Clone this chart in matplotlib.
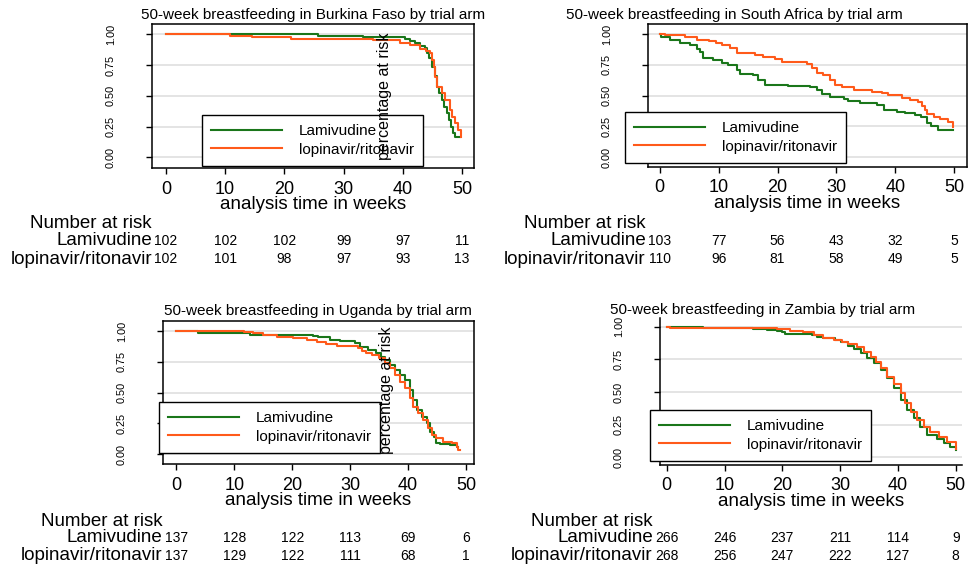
import matplotlib
matplotlib.use("Agg")
import matplotlib.pyplot as plt
from matplotlib.transforms import blended_transform_factory

plt.rcParams["font.family"] = ["Liberation Sans", "DejaVu Sans"]

W, H = 975, 567

arms = ["Lamivudine", "lopinavir/ritonavir"]
arm_colors = ["#1a761a", "#ff5a1a"]
risk_times = [0, 10, 20, 30, 40, 50]

# ---- Burkina Faso (KM steps) ----
bf_lam_t = [0, 25.7, 33.3, 40.4, 41.2, 42.0, 42.9, 43.75, 44.1, 44.5, 45.0, 45.4, 45.8, 46.2, 46.6,
            47.0, 47.4, 47.8, 48.1, 48.5, 48.9, 49.7]
bf_lam_s = [1.0, 0.99, 0.98, 0.96, 0.945, 0.927, 0.905, 0.886, 0.845, 0.805, 0.737, 0.66, 0.574,
            0.52, 0.466, 0.41, 0.358, 0.30, 0.249, 0.20, 0.163, 0.163]
bf_lpv_t = [0, 10.8, 14.5, 21.2, 35.0, 39.5, 41.2, 42.9, 44.0, 44.6, 44.9, 45.2, 45.5, 45.8, 46.6,
            47.2, 47.9, 48.3, 48.8, 49.3, 49.8]
bf_lpv_s = [1.0, 0.99, 0.98, 0.964, 0.954, 0.93, 0.913, 0.878, 0.867, 0.845, 0.79, 0.737, 0.65,
            0.574, 0.52, 0.466, 0.385, 0.33, 0.276, 0.22, 0.168]
bf_risk_lam = [102, 102, 102, 99, 97, 11]
bf_risk_lpv = [102, 101, 98, 97, 93, 13]

# ---- South Africa ----
sa_lam_t = [0, 0.3, 1.7, 3.4, 5.1, 6.3, 6.8, 7.4, 9.1, 10.5, 11.6, 13.1, 13.6, 15.9, 16.7, 17.8,
            21.8, 25.5, 26.7, 27.5, 28.9, 31.2, 32.0, 34.0, 36.8, 38.0, 40.2, 41.6, 43.3, 44.4,
            45.3, 46.1, 47.3, 49.8]
sa_lam_s = [1.0, 0.973, 0.95, 0.928, 0.909, 0.882, 0.854, 0.806, 0.787, 0.766, 0.748, 0.707, 0.675,
            0.667, 0.627, 0.586, 0.58, 0.567, 0.546, 0.511, 0.492, 0.473, 0.46, 0.438, 0.424, 0.384,
            0.37, 0.357, 0.343, 0.325, 0.276, 0.255, 0.222, 0.222]
sa_lpv_t = [0, 0.9, 4.3, 6.3, 8.4, 9.5, 10.6, 12.0, 13.1, 16.2, 17.6, 19.6, 20.7, 25.0, 25.8, 26.7,
            27.8, 28.9, 29.8, 30.9, 32.9, 36.0, 37.7, 38.8, 41.1, 42.5, 43.9, 44.5, 45.1, 45.4,
            46.5, 47.6, 49.0, 49.8]
sa_lpv_s = [1.0, 0.989, 0.978, 0.951, 0.943, 0.929, 0.911, 0.884, 0.843, 0.83, 0.816, 0.794, 0.776,
            0.754, 0.722, 0.681, 0.667, 0.627, 0.586, 0.567, 0.546, 0.532, 0.519, 0.505, 0.484, 0.465,
            0.451, 0.416, 0.384, 0.351, 0.33, 0.308, 0.289, 0.249]
sa_risk_lam = [103, 77, 56, 43, 32, 5]
sa_risk_lpv = [110, 96, 81, 58, 49, 5]

# ---- Uganda ----
ug_lam_t = [0, 3.8, 12.7, 16.7, 23.6, 24.5, 26.5, 28.3, 30.8, 31.7, 33.1, 34.5, 35.4, 36.0, 36.9,
            37.7, 38.6, 39.5, 40.3, 40.9, 41.5, 42.4, 43.2, 43.8, 44.4, 44.9, 45.5, 47.2, 48.4, 48.6]
ug_lam_s = [1.0, 0.984, 0.97, 0.967, 0.962, 0.949, 0.927, 0.919, 0.9, 0.873, 0.846, 0.819, 0.791,
            0.764, 0.724, 0.683, 0.642, 0.602, 0.52, 0.439, 0.358, 0.303, 0.249, 0.181, 0.141, 0.092,
            0.081, 0.073, 0.06, 0.06]
ug_lpv_t = [0, 11.6, 13.3, 15.0, 17.3, 19.0, 20.2, 22.5, 24.2, 25.9, 27.7, 31.4, 32.0, 32.8, 33.7,
            34.9, 36.0, 36.9, 37.7, 38.6, 39.5, 40.3, 40.9, 41.7, 42.6, 43.5, 44.1, 44.9, 46.1, 47.5,
            48.4, 48.7, 49.0]
ug_lpv_s = [1.0, 0.99, 0.98, 0.967, 0.954, 0.949, 0.94, 0.927, 0.913, 0.894, 0.878, 0.859, 0.837,
            0.819, 0.805, 0.778, 0.737, 0.697, 0.642, 0.588, 0.534, 0.453, 0.385, 0.331, 0.276, 0.209,
            0.154, 0.127, 0.1, 0.087, 0.06, 0.033, 0.033]
ug_risk_lam = [137, 128, 122, 113, 69, 6]
ug_risk_lpv = [137, 129, 122, 111, 68, 1]

# ---- Zambia ----
zm_lam_t = [0, 1.2, 6.3, 11.5, 15.0, 17.3, 19.0, 19.9, 20.5, 25.1, 26.0, 27.1, 28.3, 29.2, 30.1,
            31.3, 32.4, 33.6, 34.7, 35.9, 37.0, 38.2, 39.3, 40.5, 41.6, 42.8, 43.9, 45.1, 46.8, 47.9,
            49.1, 50.0]
zm_lam_s = [1.0, 0.995, 0.992, 0.987, 0.982, 0.974, 0.967, 0.957, 0.944, 0.936, 0.921, 0.916, 0.911,
            0.898, 0.88, 0.855, 0.829, 0.796, 0.758, 0.719, 0.668, 0.604, 0.528, 0.439, 0.362, 0.298,
            0.234, 0.171, 0.14, 0.107, 0.082, 0.056]
zm_lpv_t = [0, 0.6, 14.4, 19.0, 21.3, 23.6, 25.4, 27.1, 28.9, 30.3, 31.3, 33.0, 34.2, 35.3, 36.2,
            37.0, 38.2, 39.3, 40.5, 41.3, 42.2, 43.3, 44.5, 45.6, 47.1, 48.5, 50.0]
zm_lpv_s = [1.0, 0.992, 0.987, 0.98, 0.967, 0.957, 0.936, 0.911, 0.898, 0.885, 0.865, 0.847, 0.809,
            0.77, 0.732, 0.681, 0.617, 0.558, 0.49, 0.413, 0.35, 0.286, 0.234, 0.191, 0.158, 0.12,
            0.064]
zm_risk_lam = [266, 246, 237, 211, 114, 9]
zm_risk_lpv = [268, 256, 247, 222, 127, 8]


def frac_rect(l, t, r, b):
    return [l / W, 1 - b / H, (r - l) / W, (b - t) / H]


panels = [
    dict(country="Burkina Faso", box=(152, 24, 474, 168), xlim=(-2.36, 52.03), ylim=(-0.087, 1.084),
         title_xy=(313, 15), legend_xy=(202, 166), full_box=True, ylab_xy=(385, 96),
         table_y=(224, 241, 259),
         curves=[(bf_lam_t, bf_lam_s), (bf_lpv_t, bf_lpv_s)], risk=[bf_risk_lam, bf_risk_lpv]),
    dict(country="South Africa", box=(648, 24, 967, 167), xlim=(-1.99, 52.16), ylim=(-0.079, 1.081),
         title_xy=(734, 15), legend_xy=(625, 163), full_box=True, ylab_xy=None,
         table_y=(224, 241, 259),
         curves=[(sa_lam_t, sa_lam_s), (sa_lpv_t, sa_lpv_s)], risk=[sa_risk_lam, sa_risk_lpv]),
    dict(country="Uganda", box=(163, 321, 474, 464), xlim=(-2.30, 51.38), ylim=(-0.081, 1.081),
         title_xy=(318, 311), legend_xy=(159, 453), full_box=True, ylab_xy=(387, 390),
         table_y=(521, 538, 556),
         curves=[(ug_lam_t, ug_lam_s), (ug_lpv_t, ug_lpv_s)], risk=[ug_risk_lam, ug_risk_lpv]),
    dict(country="Zambia", box=(660, 318, 962, 465), xlim=(-1.16, 51.09), ylim=(-0.059, 1.067),
         title_xy=(763, 310), legend_xy=(650, 461), full_box=False, ylab_xy=None,
         table_y=(521, 538, 556),
         curves=[(zm_lam_t, zm_lam_s), (zm_lpv_t, zm_lpv_s)], risk=[zm_risk_lam, zm_risk_lpv]),
]

fig = plt.figure(figsize=(W / 100, H / 100), dpi=100)
fig.patch.set_facecolor("white")

for p in panels:
    ax = fig.add_axes(frac_rect(*p["box"]))
    ax.set_xlim(*p["xlim"])
    ax.set_ylim(*p["ylim"])

    for y in [0, 0.25, 0.5, 0.75, 1.0]:
        ax.axhline(y, color="#dcdcdc", linewidth=1.1, zorder=1)

    for (t, s), name, col in zip(p["curves"], arms, arm_colors):
        ax.step(t, s, where="post", color=col, linewidth=1.5, label=name, zorder=3)

    ax.set_xticks(risk_times)
    ax.set_yticks([0, 0.25, 0.5, 0.75, 1.0])
    ax.set_yticklabels(["0.00", "0.25", "0.50", "0.75", "1.00"], rotation=90, va="center")
    ax.tick_params(axis="x", labelsize=13, length=4, width=1, pad=5)
    ax.tick_params(axis="y", labelsize=7.8, length=4, width=1, pad=22)
    ax.set_xlabel("analysis time in weeks", fontsize=13.5, labelpad=-1)

    for side in ["left", "bottom", "top", "right"]:
        ax.spines[side].set_linewidth(1.1)
        ax.spines[side].set_color("black")
    if not p["full_box"]:
        ax.spines["top"].set_visible(False)
        ax.spines["right"].set_visible(False)

    lx, ly = p["legend_xy"]
    ax.legend(loc="lower left", bbox_to_anchor=(lx / W, 1 - ly / H), bbox_transform=fig.transFigure,
              borderaxespad=0, fontsize=11, handlelength=4.65, handletextpad=1.08,
              borderpad=0.6, labelspacing=0.32, frameon=True, fancybox=False,
              edgecolor="black", framealpha=1)
    ax.get_legend().get_frame().set_linewidth(1.0)

    tx, ty = p["title_xy"]
    fig.text(tx / W, 1 - ty / H, f"50-week breastfeeding in {p['country']} by trial arm",
             ha="center", va="center", fontsize=11)

    if p["ylab_xy"] is not None:
        yx, yy = p["ylab_xy"]
        fig.text(yx / W, 1 - yy / H, "percentage at risk", rotation=90,
                 ha="center", va="center", fontsize=11.5, zorder=10)

    # number at risk table under the panel
    trans = blended_transform_factory(ax.transData, fig.transFigure)
    y_head, y_lam, y_lpv = p["table_y"]
    ax.annotate("Number at risk", xy=(0, 1 - y_head / H), xycoords=trans, xytext=(-10, 0),
                textcoords="offset points", ha="right", va="center", fontsize=13.5,
                annotation_clip=False)
    for name, counts, yrow in zip(arms, p["risk"], [y_lam, y_lpv]):
        ax.annotate(name, xy=(0, 1 - yrow / H), xycoords=trans, xytext=(-10, 0),
                    textcoords="offset points", ha="right", va="center", fontsize=13.5,
                    annotation_clip=False)
        for tt, n in zip(risk_times, counts):
            ax.text(tt, 1 - yrow / H, str(n), transform=trans, ha="center", va="center",
                    fontsize=10)

fig.savefig("out.png", dpi=100)
